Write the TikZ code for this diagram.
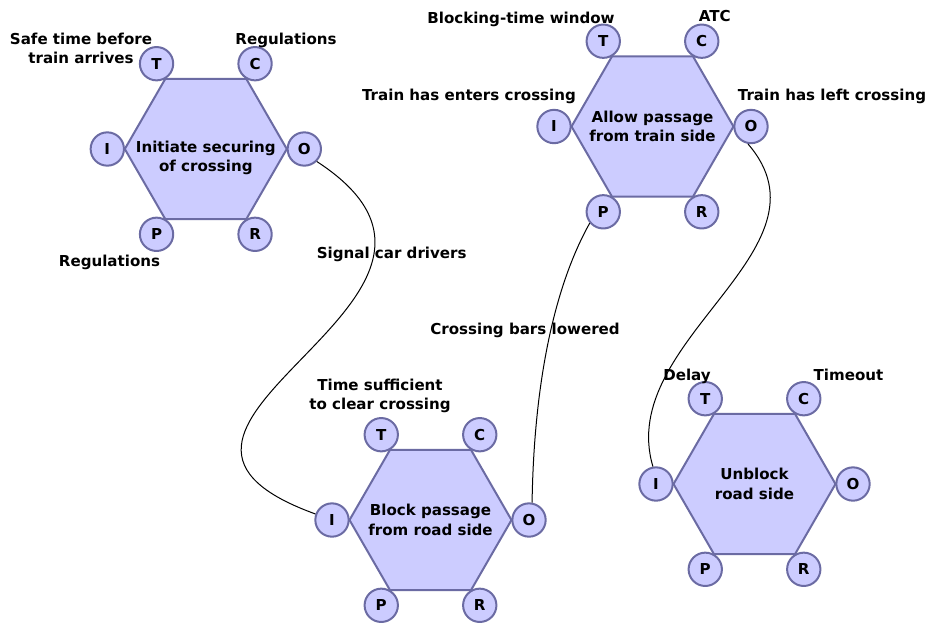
\documentclass[tikz,border=0pt]{standalone}
\usepackage{fontspec}
\setmainfont{DejaVu Sans}
\usetikzlibrary{calc}

\definecolor{aspfill}{HTML}{CCCCFF}
\definecolor{aspline}{HTML}{6B6BA3}

% 機能: 名前, x, y, 文字のずれ, 機能名
\newcommand{\framfn}[5]{%
  \draw[hexa] (#2,#3) +(0:81) -- +(60:81) -- +(120:81) -- +(180:81) -- +(240:81) -- +(300:81) -- cycle;
  \node[txt] (#1) at ($(#2,#3)+(0,#4)$) {#5};
  \foreach \a/\t in {0/O,60/R,120/P,180/I,240/T,300/C}
    \node[asp] (#1-\t) at ($(#2,#3)+(\a:98.5)$) {\t};
}

\begin{document}
\begin{tikzpicture}[x=0.75pt,y=-0.75pt,
  every node/.style={font=\fontsize{11.3}{14.5}\selectfont\bfseries},
  hexa/.style={draw=aspline,fill=aspfill,line width=1.5pt,line join=round},
  asp/.style={circle,draw=aspline,fill=aspfill,line width=1.5pt,minimum size=25pt,inner sep=0pt},
  txt/.style={align=center},
  note/.style={anchor=base},
  flow/.style={line width=0.75pt}]
 \useasboundingbox (0,0) rectangle (930,622);

 \framfn{f1}{205.8}{149}{9}{Initiate securing\\of crossing} %機能1
 \framfn{f2}{652.5}{126.5}{0}{Allow passage\\from train side} %機能2
 \framfn{f3}{430.5}{520}{0}{Block passage\\from road side} %機能3
 \framfn{f4}{754.5}{484}{0}{Unblock\\road side} %機能4

 \node[txt] (safe) at (81,48.3) {Safe time before\\train arrives};
 \node[note] (reg1) at (286,44) {Regulations};
 \node[note] (reg2) at (109.5,266) {Regulations};
 \node[note] (signal) at (391.7,258.3) {Signal car drivers};
 \node[note] (window) at (521,23.3) {Blocking-time window};
 \node[note] (atc) at (714.7,21.7) {ATC};
 \node[note] (enters) at (469,100.7) {Train has enters crossing};
 \node[note] (left) at (832,100) {Train has left crossing};
 \node[note] (bars) at (525,334) {Crossing bars lowered};
 \node[txt] (clear) at (380,396) {Time sufficient\\to clear crossing};
 \node[note] (delay) at (687,380.7) {Delay};
 \node[note] (timeout) at (848.5,380.7) {Timeout};

 \draw[flow] (f1-O.-45) .. controls (530,300) and (70,425) .. (f3-I.160); %O→I
 \draw[flow] (f2-P.220) .. controls (555,285) and (534,380) .. (f3-O.80); %P→O
 \draw[flow] (f2-O.-100) .. controls (840,250) and (615,340) .. (f4-I.100); %O→I
\end{tikzpicture}
\end{document}
